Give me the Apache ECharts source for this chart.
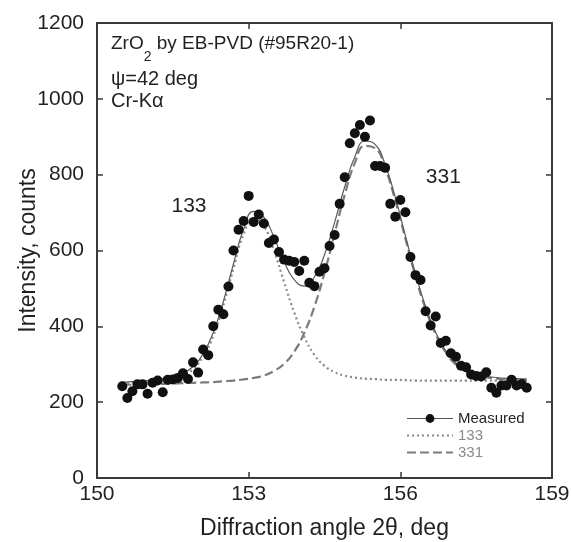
<!DOCTYPE html>
<html><head><meta charset="utf-8">
<script src="https://cdn.jsdelivr.net/npm/echarts@6/dist/echarts.min.js"></script>
<style>html,body{margin:0;padding:0;background:#fff}#c{width:571px;height:542px}</style>
</head><body><div id="c"></div>
<script>
// ---- data ----
const angles = [150.5,150.6,150.7,150.8,150.9,151.0,151.1,151.2,151.3,151.4,
  151.5,151.6,151.7,151.8,151.9,152.0,152.1,152.2,152.3,152.4,
  152.5,152.6,152.7,152.8,152.9,153.0,153.1,153.2,153.3,153.4,
  153.5,153.6,153.7,153.8,153.9,154.0,154.1,154.2,154.3,154.4,
  154.5,154.6,154.7,154.8,154.9,155.0,155.1,155.2,155.3,155.4,
  155.5,155.6,155.7,155.8,155.9,156.0,156.1,156.2,156.3,156.4,
  156.5,156.6,156.7,156.8,156.9,157.0,157.1,157.2,157.3,157.4,
  157.5,157.6,157.7,157.8,157.9,158.0,158.1,158.2,158.3,158.4,158.5];
const measured = [242,211,229,247,247,222,251,257,226,259,
  260,264,276,261,305,278,339,324,400,444,
  432,505,600,655,678,744,675,695,671,620,
  629,596,576,573,570,546,573,515,506,544,
  553,612,641,723,793,883,909,931,900,943,
  823,823,818,723,689,733,701,583,535,522,
  440,402,426,356,362,329,320,296,292,273,
  269,268,279,238,225,244,244,259,244,248,238];
const fitAngles = [150.5,150.7,150.9,151.1,151.3,151.5,151.7,151.9,152.1,152.3,
  152.5,152.7,152.9,153.1,153.3,153.5,153.7,153.9,154.1,154.3,
  154.5,154.7,154.9,155.1,155.3,155.5,155.7,155.9,156.1,156.3,
  156.5,156.7,156.9,157.1,157.3,157.5,157.7,157.9,158.1,158.3,158.5];
const fitTotal = [252,254,256,258,262,267,276,294,328,384,
  466,565,656,703,688,635,571,523,506,530,
  589,674,768,847,889,880,826,740,639,539,
  452,383,335,303,284,273,268,265,263,262,261];
const peak133 = [249,250,252,254,257,262,270,287,320,375,
  456,553,643,686,665,600,517,437,372,325,
  296,279,270,265,262,261,259,259,258,257,
  257,257,257,257,257,257,257,257,257,257,257];
const peak331 = [246,246,247,248,248,249,250,251,252,253,
  255,257,260,264,270,282,301,333,383,452,
  541,644,747,831,876,870,817,732,632,532,
  446,379,331,299,281,270,265,262,260,260,259];
const xTickValues = [150,153,156,159];
const yTickValues = [0,200,400,600,800,1000,1200];
const peakLabels = ['133','331'];
const peakLabelAt = [[151.82,717],[156.85,793]];
const seriesNames = ['Measured','133','331'];

// ---- chart ----
const FONT = 'Liberation Sans, Arial, Helvetica, sans-serif';
const INK = '#231f20';
const AX = '#3a3a3a';
const pairs = (xs, ys) => xs.map((x, i) => [x, ys[i]]);

const chart = echarts.init(document.getElementById('c'), null, {renderer: 'canvas'});

const xBase = {
  type: 'value', min: xTickValues[0], max: xTickValues[xTickValues.length - 1],
  interval: xTickValues[1] - xTickValues[0],
  splitLine: {show: false},
  axisLine: {show: true, onZero: false, lineStyle: {color: AX, width: 2}},
  axisTick: {show: true, inside: true, length: 6, lineStyle: {color: AX, width: 1.5}}
};
const yBase = {
  type: 'value', min: yTickValues[0], max: yTickValues[yTickValues.length - 1],
  interval: yTickValues[1] - yTickValues[0],
  splitLine: {show: false},
  axisLine: {show: true, onZero: false, lineStyle: {color: AX, width: 2}},
  axisTick: {show: true, inside: true, length: 6, lineStyle: {color: AX, width: 1.5}}
};

chart.setOption({
  animation: false,
  backgroundColor: '#ffffff',
  textStyle: {fontFamily: FONT},
  grid: {left: 97, right: 19, top: 23, bottom: 64, containLabel: false, outerBoundsMode: 'none'},
  xAxis: [
    Object.assign({}, xBase, {
      position: 'bottom',
      axisLabel: {show: true, fontSize: 21, color: INK, margin: 6, fontFamily: FONT,
                  formatter: v => String(v)},
      name: 'Diffraction angle 2\u03b8, deg', nameLocation: 'middle', nameGap: 39,
      nameMoveOverlap: false,
      nameTextStyle: {fontSize: 23, color: INK, fontFamily: FONT}
    }),
    Object.assign({}, xBase, {position: 'top', axisLabel: {show: false}})
  ],
  yAxis: [
    Object.assign({}, yBase, {
      position: 'left',
      axisLabel: {show: true, fontSize: 21, color: INK, margin: 13, fontFamily: FONT,
                  formatter: v => String(v)},
      name: 'Intensity, counts', nameLocation: 'middle', nameGap: 57,
      nameMoveOverlap: false,
      nameTextStyle: {fontSize: 23, color: INK, fontFamily: FONT}
    }),
    Object.assign({}, yBase, {position: 'right', axisLabel: {show: false}})
  ],
  legend: {
    orient: 'vertical', left: 406, top: 410, padding: 0, itemGap: 0,
    itemWidth: 46, itemHeight: 11, selectedMode: false,
    textStyle: {fontSize: 15, lineHeight: 17, fontFamily: FONT, color: INK},
    data: [
      {name: seriesNames[0], lineStyle: {color: '#555555', width: 1, opacity: 1, type: 'solid'},
       itemStyle: {color: '#111111', opacity: 1}, textStyle: {color: INK}},
      {name: seriesNames[1], itemStyle: {opacity: 0}, textStyle: {color: '#8a8a8a'}},
      {name: seriesNames[2], itemStyle: {opacity: 0}, textStyle: {color: '#8a8a8a'}}
    ]
  },
  graphic: [
    {type: 'text', x: 111, y: 44, silent: true,
     style: {text: '{a|ZrO}{s|2}{a| by EB-PVD (#95R20-1)}', verticalAlign: 'middle', align: 'left',
       rich: {a: {fontSize: 19, fontFamily: FONT, fill: INK, color: INK},
              s: {fontSize: 14, fontFamily: FONT, fill: INK, color: INK, padding: [27, 0, 0, 0]}}}},
    {type: 'text', x: 111, y: 79, silent: true,
     style: {text: '\u03c8=42 deg', font: '20px ' + FONT, fill: INK, verticalAlign: 'middle'}},
    {type: 'text', x: 111, y: 101, silent: true,
     style: {text: 'Cr-K\u03b1', font: '20px ' + FONT, fill: INK, verticalAlign: 'middle'}}
  ],
  series: [
    {
      name: seriesNames[1], type: 'line', smooth: true, symbol: 'none', silent: true, z: 2,
      data: pairs(fitAngles, peak133),
      lineStyle: {color: '#8a8a8a', width: 2.2, type: [2, 3]}
    },
    {
      name: seriesNames[2], type: 'line', smooth: true, symbol: 'none', silent: true, z: 2,
      data: pairs(fitAngles, peak331),
      lineStyle: {color: '#7c7c7c', width: 2.2, type: [9, 4]}
    },
    {
      name: 'Fit', type: 'line', smooth: true, symbol: 'none', silent: true, z: 3,
      data: pairs(fitAngles, fitTotal),
      lineStyle: {color: '#5a5a5a', width: 1.2},
      markPoint: {
        symbol: 'circle', symbolSize: 0, silent: true,
        label: {show: true, position: 'inside', formatter: '{c}', fontSize: 21, color: INK, fontFamily: FONT},
        data: peakLabels.map((t, i) => ({coord: peakLabelAt[i], value: t}))
      }
    },
    {
      name: seriesNames[0], type: 'line', symbol: 'circle', symbolSize: 10, showSymbol: true,
      showAllSymbol: true, silent: true, z: 4,
      data: pairs(angles, measured),
      itemStyle: {color: '#111111'},
      lineStyle: {color: '#555555', width: 1, opacity: 0}
    }
  ]
});
</script>
</body></html>
